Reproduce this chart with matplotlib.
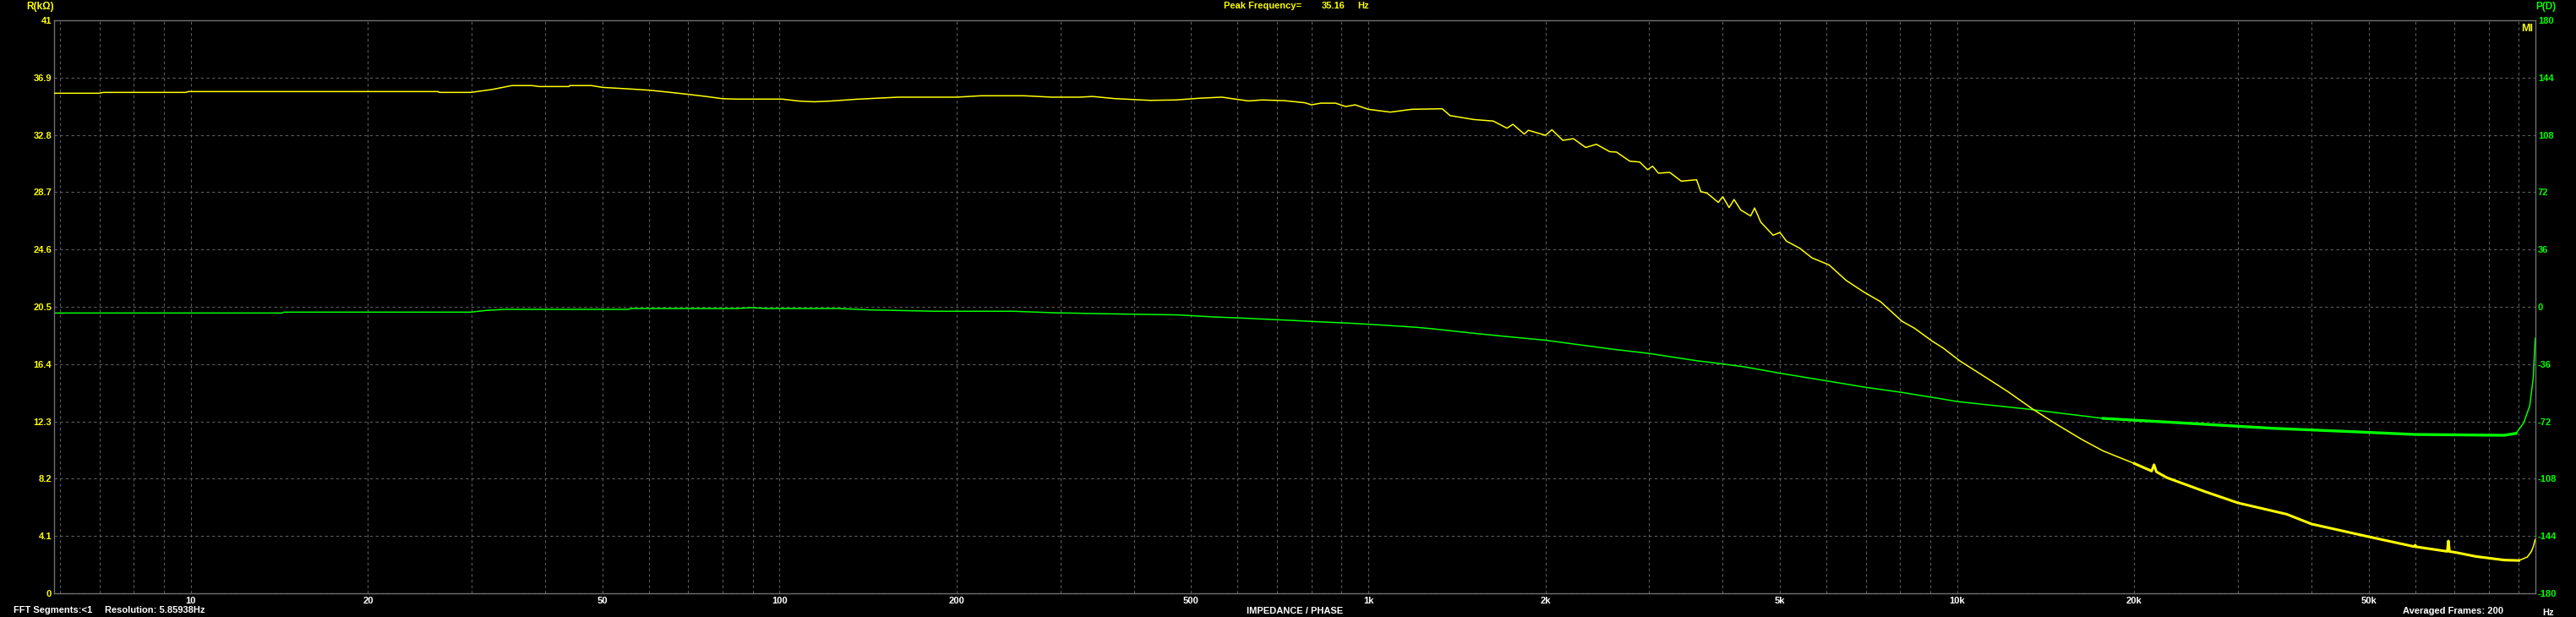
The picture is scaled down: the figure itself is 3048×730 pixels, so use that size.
import numpy as np
import matplotlib
matplotlib.use('Agg')
import matplotlib.pyplot as plt
from matplotlib.ticker import NullFormatter

plt.rcParams['font.family'] = ['Liberation Sans', 'DejaVu Sans']
plt.rcParams['font.weight'] = 'bold'

YELLOW = '#ffff00'
GREEN = '#00ff00'
GRID = '#5c5c5c'
FRAME = '#707070'

# impedance magnitude (kOhm) vs frequency (Hz)
imp_freq = [
    5.86, 7.0, 7.1, 9.8, 9.9, 26.3, 26.4, 29.9, 32.5, 35.1,
    38.0, 39.0, 43.9, 44.0, 47.9, 50, 55, 60, 65, 70,
    75, 80, 85, 101, 108, 114.5, 122, 135, 159, 200,
    220, 260, 290, 324, 340, 370, 426, 470, 520, 564,
    590, 626, 660, 720, 780, 801, 830, 880, 915, 950,
    1000, 1090, 1185, 1335, 1377, 1510, 1630, 1720, 1760, 1840,
    1870, 2000, 2050, 2140, 2230, 2340, 2440, 2570, 2640, 2780,
    2890, 2980, 3040, 3110, 3250, 3400, 3610, 3670, 3760, 3930,
    4000, 4100, 4180, 4290, 4460, 4530, 4640, 4870, 5000, 5130,
    5400, 5670, 6060, 6480, 6930, 7410, 8060, 8470, 9060, 9470,
    10100, 11100, 12200, 13400, 14600, 16300, 17700, 20000, 21400, 21600,
    21800, 22700, 26400, 30000, 36300, 40000, 50000, 59800, 60000, 60200,
    68000, 68300, 68600, 70000, 76000, 85000, 90000, 93000, 94500, 95300,
    95900]
imp_kohm = [
    35.78, 35.78, 35.84, 35.84, 35.90, 35.90, 35.84, 35.84, 36.05, 36.33,
    36.33, 36.26, 36.26, 36.33, 36.33, 36.2, 36.1, 36.0, 35.85, 35.70,
    35.55, 35.39, 35.36, 35.36, 35.22, 35.17, 35.22, 35.35, 35.5, 35.5,
    35.6, 35.6, 35.5, 35.5, 35.55, 35.4, 35.27, 35.3, 35.43, 35.5,
    35.38, 35.23, 35.3, 35.25, 35.1, 34.95, 35.07, 35.07, 34.83, 34.95,
    34.63, 34.43, 34.63, 34.67, 34.18, 33.9, 33.79, 33.28, 33.56, 32.86,
    33.13, 32.77, 33.17, 32.41, 32.53, 31.9, 32.13, 31.6, 31.57, 30.92,
    30.86, 30.31, 30.56, 30.06, 30.12, 29.49, 29.59, 28.74, 28.64, 27.97,
    28.38, 27.6, 28.18, 27.43, 27.0, 27.57, 26.56, 25.62, 25.82, 25.2,
    24.7, 24.0, 23.5, 22.39, 21.58, 20.87, 19.47, 18.96, 18.06, 17.55,
    16.64, 15.54, 14.43, 13.22, 12.21, 11.0, 10.19, 9.29, 8.75, 9.2,
    8.7, 8.28, 7.27, 6.47, 5.66, 4.96, 4.05, 3.34, 3.45, 3.33,
    3.0, 3.75, 2.99, 2.94, 2.64, 2.38, 2.35, 2.6, 3.0, 3.4,
    3.85]

# phase (degrees) vs frequency (Hz)
ph_freq = [
    5.86, 14.3, 14.4, 29.9, 31.7, 34.0, 55.4, 56.0, 84.8, 89.6,
    95, 126, 142.6, 185, 250, 291, 362, 476, 546, 626,
    718, 823, 944, 1080, 1210, 1300, 1500, 1720, 2000, 2300,
    2570, 3000, 3600, 4000, 4350, 5000, 6000, 7000, 8000, 9470,
    10000, 13200, 17700, 24500, 34300, 48000, 60000, 85000, 89000, 91700,
    93900, 95200, 95900]
ph_deg = [
    -3.9, -3.9, -3.35, -3.35, -2.3, -1.6, -1.6, -1.06, -1.06, -0.53,
    -1.06, -1.06, -1.95, -2.8, -2.8, -3.72, -4.4, -5.1, -6.37, -7.26,
    -8.3, -9.4, -10.4, -11.7, -12.9, -14.0, -16.5, -18.7, -21.0, -24.0,
    -26.4, -29.3, -33.8, -35.9, -37.7, -41.7, -46.5, -50.6, -53.6, -58.0,
    -59.5, -64.3, -70.1, -73.1, -76.3, -78.6, -80.2, -80.7, -79.5, -72.8,
    -62.1, -44.5, -19.7]

x_major = [10, 20, 50, 100, 200, 500, 1000, 2000, 5000, 10000, 20000, 50000]
x_labels = ['10', '20', '50', '100', '200', '500', '1k', '2k', '5k', '10k', '20k', '50k']
r_ticks = [0, 4.1, 8.2, 12.3, 16.4, 20.5, 24.6, 28.7, 32.8, 36.9, 41]
r_labels = ['0', '4.1', '8.2', '12.3', '16.4', '20.5', '24.6', '28.7', '32.8', '36.9', '41']
p_ticks = [-180, -144, -108, -72, -36, 0, 36, 72, 108, 144, 180]

F_MIN, F_MAX = 5.859, 96000

W, H = 3048, 730
fig = plt.figure(figsize=(W / 100, H / 100), dpi=100, facecolor='black')

# phase axis underneath (carries grid), ticks on right
ax = fig.add_axes([64 / W, 28 / H, 2936 / W, 678 / H])
ax.set_facecolor('black')
ax.set_xscale('log')
ax.set_xlim(F_MIN, F_MAX)
ax.set_ylim(-180, 180)

x_minor = [m * d for d in [1, 10, 100, 1000, 10000] for m in range(1, 10)]
x_minor = [v for v in x_minor if F_MIN < v < F_MAX and v not in x_major]
ax.set_xticks(x_major)
ax.set_xticklabels(x_labels)
ax.set_xticks(x_minor, minor=True)
ax.xaxis.set_minor_formatter(NullFormatter())
ax.grid(True, which='both', color=GRID, linestyle=(0, (3, 3)), linewidth=0.8)
for s in ax.spines.values():
    s.set_color(FRAME)
    s.set_linewidth(1.0)

pf = np.array(ph_freq)
pd_ = np.array(ph_deg)
ax.plot(pf, pd_, color=GREEN, lw=1.1)
hf = pf >= 15000
ax.plot(pf[hf][:-4], pd_[hf][:-4], color=GREEN, lw=2.4)

# impedance axis on top, ticks on left
ax2 = ax.twinx()
ax2.set_ylim(0, 41)
ax2.set_yticks(r_ticks)
ax2.set_yticklabels(r_labels)
for s in ax2.spines.values():
    s.set_visible(False)

rf = np.array(imp_freq)
rk = np.array(imp_kohm)
ax2.plot(rf, rk, color=YELLOW, lw=1.1)
hf2 = (rf >= 20000) & (rf <= 90000)
ax2.plot(rf[hf2], rk[hf2], color=YELLOW, lw=2.2)

# twinx resets sides, so assign them afterwards
ax.yaxis.set_ticks_position('right')
ax.set_yticks(p_ticks)
ax.set_yticklabels([str(t) for t in p_ticks])
ax.tick_params(which='both', length=0)
ax.tick_params(axis='x', colors='white', labelsize=8, pad=3)
ax.tick_params(axis='y', colors=GREEN, labelsize=8, pad=2,
               labelleft=False, labelright=True)
ax2.yaxis.set_ticks_position('left')
ax2.tick_params(which='both', length=0)
ax2.tick_params(axis='y', colors=YELLOW, labelsize=8, pad=2,
                labelleft=True, labelright=False)


def px(x, y, s, color='white', ha='left', size=8):
    fig.text(x / W, 1 - y / H, s, color=color, ha=ha, va='center', fontsize=size)


px(48, 8, 'R(kΩ)', YELLOW, 'center', 8.5)
px(3012, 8, 'P(D)', GREEN, 'center', 8.5)
px(1448, 7, 'Peak Frequency=', YELLOW)
px(1564, 7, '35.16', YELLOW)
px(1606, 7, 'Hz', YELLOW)
px(2990, 34, 'MI', YELLOW, 'center', 9)
px(16, 722, 'FFT Segments:<1')
px(124, 722, 'Resolution: 5.85938Hz')
px(1532, 723, 'IMPEDANCE / PHASE', 'white', 'center')
px(2843, 723, 'Averaged Frames: 200')
px(3008, 725, 'Hz')

fig.savefig('out.png', dpi=100, facecolor='black')
